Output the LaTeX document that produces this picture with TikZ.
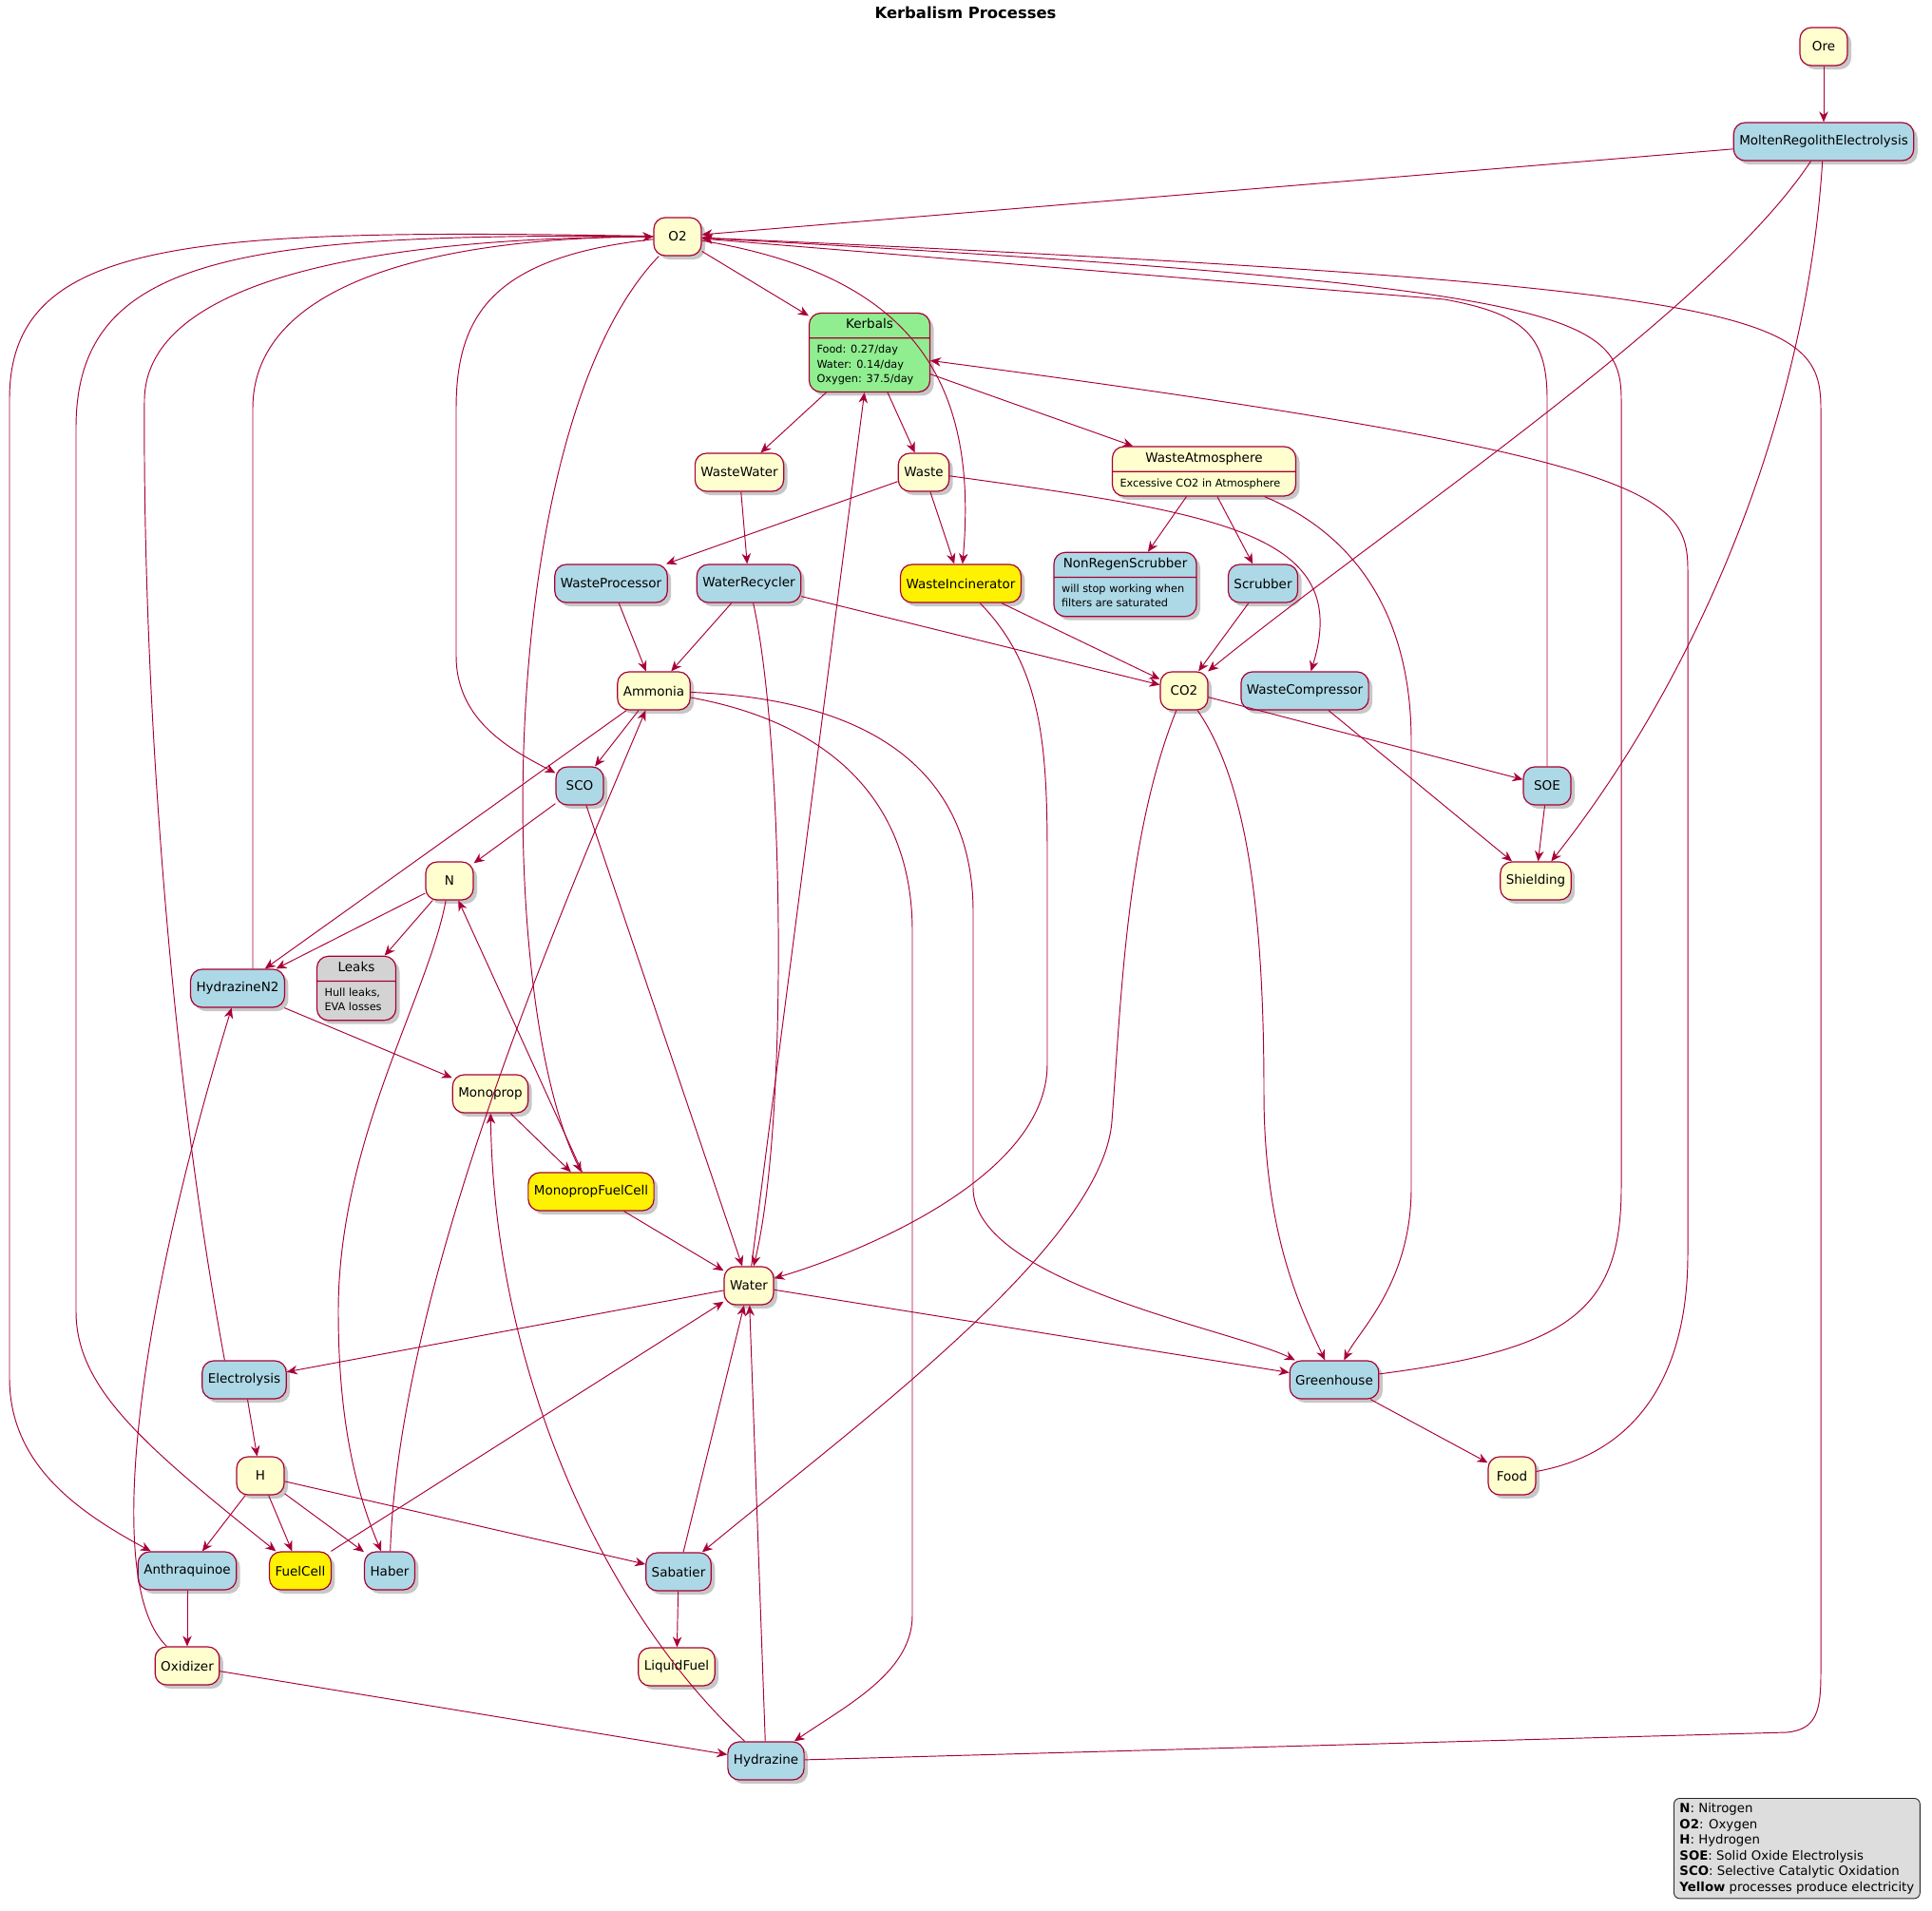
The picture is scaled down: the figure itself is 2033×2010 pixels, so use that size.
\documentclass[tikz,border=0pt]{standalone}
\usepackage{fontspec}
\setmainfont{DejaVu Sans}
\usepackage{xcolor}
\usepackage{tikz}
\usetikzlibrary{arrows.meta, shapes.multipart, shadows}

\definecolor{edgered}{HTML}{A80036}
\definecolor{stateyellow}{HTML}{FEFECE}
\definecolor{proclblue}{HTML}{ADD8E6}
\definecolor{kerbgreen}{HTML}{90EE90}
\definecolor{leakgray}{HTML}{D3D3D3}
\definecolor{legendgray}{HTML}{DDDDDD}

\newcommand{\namefont}{\fontsize{13.5}{16}\selectfont}
\newcommand{\descfont}{\fontsize{11.3}{15.5}\selectfont}
\newcommand{\legendfont}{\fontsize{13.3}{16.5}\selectfont}
\newcommand{\desclines}[1]{{\descfont\begin{tabular}{@{}l@{}}#1\end{tabular}}}

\begin{document}
\begin{tikzpicture}[x=1pt, y=-1pt,
    state/.style={rectangle, rounded corners=12pt, draw=edgered, line width=1.2pt, fill=stateyellow, minimum width=50pt, minimum height=40pt, inner xsep=6pt, inner ysep=3pt, font=\namefont, drop shadow={shadow xshift=4pt, shadow yshift=-4pt, fill=black, opacity=0.22}},
    proc/.style={state, fill=proclblue},
    power/.style={state, fill=yellow},
    split/.style={rectangle split, rectangle split parts=2, rectangle split part align={center,left}, minimum height=0pt, inner xsep=8pt, inner ysep=4.5pt},
    legendbox/.style={rectangle, rounded corners=6pt, draw=black!85, fill=legendgray, line width=0.9pt, align=left, inner xsep=6pt, inner ysep=5pt, font=\legendfont},
    flow/.style={draw=edgered, line width=0.95pt, -{Stealth[length=11pt, width=9.5pt, inset=3.5pt]}}]

    \path [use as bounding box, fill=white] (0,0) rectangle (2033,2010);

    \node [font=\bfseries\fontsize{16.4}{20}\selectfont] (title) at (1016,13) {Kerbalism Processes};

    \node [state] (Ore) at (1919,49) {Ore};
    \node [proc] (MRE) at (1919,149) {MoltenRegolithElectrolysis};
    \node [state] (O2) at (713,249) {O2};
    \node [state, split, fill=kerbgreen, minimum width=127pt] (Kerbals) at (915,371) {Kerbals\strut \nodepart{two} \desclines{Food: 0.27/day\\Water: 0.14/day\\Oxygen: 37.5/day}};
    \node [state] (WasteWater) at (778,497) {WasteWater};
    \node [state] (Waste) at (972,497) {Waste};
    \node [state, split, minimum width=193pt] (WasteAtmosphere) at (1267,496) {WasteAtmosphere\strut \nodepart{two} \desclines{Excessive CO2 in Atmosphere}};
    \node [proc] (WasteProcessor) at (643,614) {WasteProcessor};
    \node [proc] (WaterRecycler) at (788,614) {WaterRecycler};
    \node [power] (WasteIncinerator) at (1011,614) {WasteIncinerator};
    \node [proc, split, minimum width=150pt] (NonRegenScrubber) at (1184,615) {NonRegenScrubber\strut \nodepart{two} \desclines{will stop working when\\filters are saturated}};
    \node [proc] (Scrubber) at (1329,614) {Scrubber};
    \node [state] (Ammonia) at (688,727) {Ammonia};
    \node [state] (CO2) at (1246,727) {CO2};
    \node [proc] (WasteCompressor) at (1373,727) {WasteCompressor};
    \node [proc] (SCO) at (610,827) {SCO};
    \node [proc] (SOE) at (1628,827) {SOE};
    \node [state] (N) at (473,927) {N};
    \node [state] (Shielding) at (1616,927) {Shielding};
    \node [proc] (HydrazineN2) at (250,1040) {HydrazineN2};
    \node [state, split, fill=leakgray, minimum width=83pt] (Leaks) at (375,1040) {Leaks\strut \nodepart{two} \desclines{Hull leaks,\\EVA losses}};
    \node [state] (Monoprop) at (516,1151) {Monoprop};
    \node [power] (MonopropFuelCell) at (622,1254) {MonopropFuelCell};
    \node [state] (Water) at (788,1353) {Water};
    \node [proc] (Electrolysis) at (257,1452) {Electrolysis};
    \node [proc] (Greenhouse) at (1404,1452) {Greenhouse};
    \node [state] (H) at (274,1553) {H};
    \node [state] (Food) at (1591,1553) {Food};
    \node [proc] (Anthraquinoe) at (197,1653) {Anthraquinoe};
    \node [power] (FuelCell) at (316,1653) {FuelCell};
    \node [proc] (Haber) at (410,1653) {Haber};
    \node [proc] (Sabatier) at (714,1654) {Sabatier};
    \node [state] (Oxidizer) at (197,1753) {Oxidizer};
    \node [state] (LiquidFuel) at (712,1754) {LiquidFuel};
    \node [proc] (Hydrazine) at (806,1853) {Hydrazine};

    \node [legendbox, anchor=north west] (legend) at (1761,1892) {\textbf{N}: Nitrogen\\\textbf{O2}: Oxygen\\\textbf{H}: Hydrogen\\\textbf{SOE}: Solid Oxide Electrolysis\\\textbf{SCO}: Selective Catalytic Oxidation\\\textbf{Yellow} processes produce electricity};

    \path [flow] (Ore) -- (MRE);
    \path [flow] (MRE) -- (O2);
    \path [flow] (MRE) .. controls (1800,330) and (1450,560) .. (CO2);
    \path [flow] (MRE) .. controls (1900,450) and (1780,720) .. (Shielding);
    \path [flow] (O2) -- (Kerbals);
    \path [flow] (O2) .. controls (960,290) and (1030,400) .. (WasteIncinerator);
    \path [flow] (O2) .. controls (520,270) and (480,330) .. (480,430) -- (480,690) .. controls (480,760) and (540,790) .. (SCO);
    \path [flow] (O2) .. controls (520,450) and (520,1050) .. (MonopropFuelCell);
    \path [flow] (O2) .. controls (200,240) and (10,250) .. (10,420) -- (10,1450) .. controls (10,1540) and (80,1590) .. (Anthraquinoe);
    \path [flow] (O2) .. controls (250,245) and (80,270) .. (80,450) -- (80,1380) .. controls (80,1460) and (150,1520) .. (FuelCell);
    \path [flow] (Electrolysis.135) .. controls (175,1100) and (150,700) .. (152,420) .. controls (155,280) and (450,250) .. (O2);
    \path [flow] ([xshift=16pt]HydrazineN2.north) -- (266,430) .. controls (266,290) and (480,250) .. (O2);
    \path [flow] (SOE.north) -- (1628,420) .. controls (1628,350) and (1600,330) .. (1520,315) -- (O2);
    \path [flow] (Greenhouse) .. controls (1650,1420) and (1706,1380) .. (1706,1250) -- (1706,420) .. controls (1706,330) and (1650,300) .. (O2);
    \path [flow] (Hydrazine) -- (1880,1823) .. controls (1912,1820) and (1916,1800) .. (1916,1760) -- (1916,430) .. controls (1916,330) and (1860,300) .. (O2);
    \path [flow] (Kerbals) -- (WasteWater);
    \path [flow] (Kerbals) -- (Waste);
    \path [flow] (Kerbals) -- (WasteAtmosphere);
    \path [flow] (Food) .. controls (1720,1530) and (1776,1450) .. (1776,1320) -- (1776,600) .. controls (1776,520) and (1740,480) .. (Kerbals);
    \path [flow] (Water) -- (Kerbals);
    \path [flow] (WasteWater) -- (WaterRecycler);
    \path [flow] (Waste) -- (WasteProcessor);
    \path [flow] (Waste) -- (WasteIncinerator);
    \path [flow] (Waste) .. controls (1280,540) and (1425,560) .. (WasteCompressor);
    \path [flow] (WasteAtmosphere) -- (NonRegenScrubber);
    \path [flow] (WasteAtmosphere) -- (Scrubber);
    \path [flow] (WasteAtmosphere) .. controls (1420,560) and (1485,640) .. (1485,780) -- (1485,1250) .. controls (1485,1350) and (1430,1400) .. (Greenhouse);
    \path [flow] (WasteProcessor) -- (Ammonia);
    \path [flow] (WaterRecycler) -- (Ammonia);
    \path [flow] (WaterRecycler) .. controls (825,780) and (830,1180) .. (Water);
    \path [flow] (WaterRecycler) -- (CO2);
    \path [flow] (WasteIncinerator) -- (CO2);
    \path [flow] (WasteIncinerator) .. controls (1095,700) and (1102,780) .. (1102,900) -- (1102,1120) .. controls (1102,1240) and (900,1320) .. (Water);
    \path [flow] (Scrubber) -- (CO2);
    \path [flow] (WasteCompressor) -- (Shielding);
    \path [flow] (Ammonia) -- (SCO);
    \path [flow] (Ammonia) -- (HydrazineN2);
    \path [flow] (Ammonia) .. controls (900,735) and (1024,800) .. (1024,960) -- (1024,1250) .. controls (1024,1350) and (1300,1400) .. (Greenhouse);
    \path [flow] (Ammonia) .. controls (870,760) and (960,840) .. (960,980) -- (960,1700) .. controls (960,1760) and (890,1795) .. (Hydrazine);
    \path [flow] (Haber) .. controls (420,1350) and (590,960) .. (Ammonia);
    \path [flow] (CO2) -- (SOE);
    \path [flow] (CO2) .. controls (1310,820) and (1330,950) .. (1330,1150) .. controls (1330,1300) and (1370,1380) .. (Greenhouse);
    \path [flow] (CO2) .. controls (1185,880) and (1180,1050) .. (1170,1180) .. controls (1160,1310) and (900,1500) .. (Sabatier);
    \path [flow] (SOE) -- (Shielding);
    \path [flow] (SCO) -- (N);
    \path [flow] (SCO) -- (Water);
    \path [flow] (N) -- (HydrazineN2);
    \path [flow] (N) -- (Leaks);
    \path [flow] (N) .. controls (450,1050) and (356,1200) .. (356,1380) .. controls (356,1480) and (370,1560) .. (Haber);
    \path [flow] (MonopropFuelCell) -- (N);
    \path [flow] (HydrazineN2) -- (Monoprop);
    \path [flow] (Oxidizer) .. controls (110,1670) and (140,1400) .. (HydrazineN2);
    \path [flow] (Monoprop) -- (MonopropFuelCell);
    \path [flow] (MonopropFuelCell) -- (Water);
    \path [flow] (Water) -- (Electrolysis);
    \path [flow] (Water) -- (Greenhouse);
    \path [flow] (Electrolysis) -- (H);
    \path [flow] (Greenhouse) -- (Food);
    \path [flow] (H) -- (Anthraquinoe);
    \path [flow] (H) -- (FuelCell);
    \path [flow] (H) -- (Haber);
    \path [flow] (H) -- (Sabatier);
    \path [flow] (FuelCell) -- (Water);
    \path [flow] (Sabatier) -- (Water);
    \path [flow] (Sabatier) -- (LiquidFuel);
    \path [flow] (Anthraquinoe) -- (Oxidizer);
    \path [flow] (Oxidizer) -- (Hydrazine);
    \path [flow] (Hydrazine) -- (Water);
    \path [flow] (Hydrazine) .. controls (640,1700) and (520,1450) .. (Monoprop);
\end{tikzpicture}
\end{document}
